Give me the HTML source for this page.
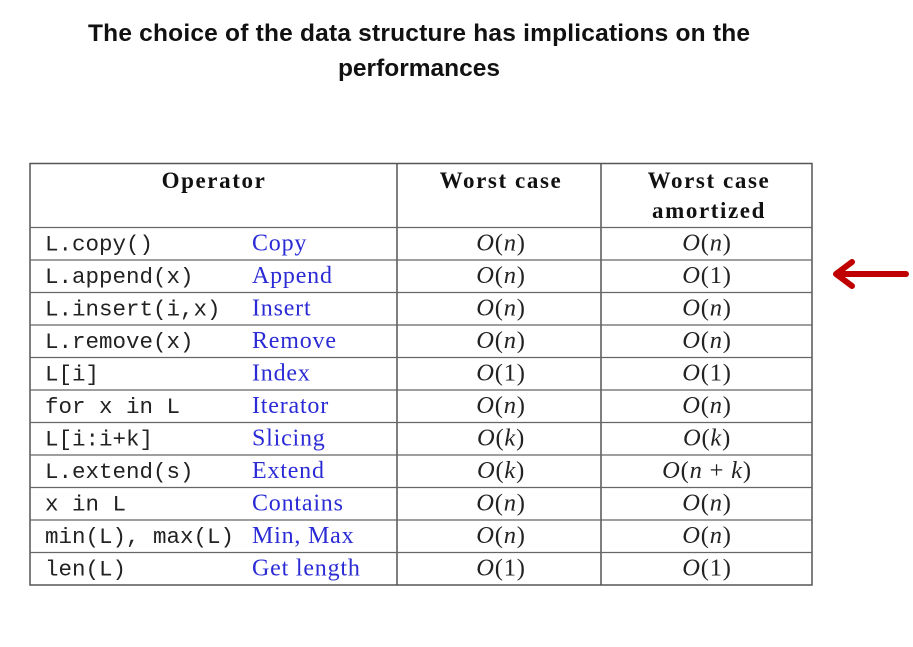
<!DOCTYPE html>
<html><head><meta charset="utf-8"><style>
html,body{margin:0;padding:0;background:#fff;}
svg{display:block}
.mono{font-family:"Liberation Mono",monospace;font-size:22.5px;fill:#222}
.blue{font-family:"Liberation Serif",serif;font-size:24px;letter-spacing:0.8px;fill:#2b2bd6}
.hdr{font-family:"Liberation Serif",serif;font-size:23px;fill:#111;font-weight:bold;letter-spacing:1.6px}
.math{font-family:"Liberation Serif",serif;font-size:24.5px;letter-spacing:0.8px;fill:#222}
.title{font-family:"Liberation Sans",sans-serif;font-size:24.5px;font-weight:bold;fill:#111}
</style></head><body>
<svg width="913" height="647">
<text class="title" x="419" y="41" text-anchor="middle" textLength="662">The choice of the data structure has implications on the</text>
<text class="title" x="419" y="76" text-anchor="middle">performances</text>
<g id="tbl">
<rect x="30" y="163.5" width="782" height="421.5" fill="none" stroke="#555" stroke-width="1.5"/>
<line x1="397" y1="163" x2="397" y2="585" stroke="#555" stroke-width="1.5"/>
<line x1="601" y1="163" x2="601" y2="585" stroke="#555" stroke-width="1.5"/>
<text class="hdr" x="214" y="188" text-anchor="middle">Operator</text>
<text class="hdr" x="501" y="188" text-anchor="middle">Worst case</text>
<text class="hdr" x="709" y="188" text-anchor="middle">Worst case</text>
<text class="hdr" x="709" y="218" text-anchor="middle">amortized</text>
</g>
<g id="arrow">
<line x1="838" y1="274" x2="906" y2="274" stroke="#c00000" stroke-width="6" stroke-linecap="round"/>
<polyline points="852,262 836,274 852,286" fill="none" stroke="#c00000" stroke-width="6" stroke-linecap="round" stroke-linejoin="round"/>
</g>
</svg>
<script>
const ops=["L.copy()","L.append(x)","L.insert(i,x)","L.remove(x)","L[i]","for x in L","L[i:i+k]","L.extend(s)","x in L","min(L), max(L)","len(L)"];
const names=["Copy","Append","Insert","Remove","Index","Iterator","Slicing","Extend","Contains","Min, Max","Get length"];
const worst=["n","n","n","n","1","n","k","k","n","n","1"];
const amort=["n","1","n","n","1","n","k","n + k","n","n","1"];
const NS="http://www.w3.org/2000/svg";
const g=document.getElementById("tbl");
const top0=227.5, rh=32.5;
function t(cls,x,y,anchor){const e=document.createElementNS(NS,"text");e.setAttribute("class",cls);e.setAttribute("x",x);e.setAttribute("y",y);if(anchor)e.setAttribute("text-anchor",anchor);g.appendChild(e);return e;}
function span(e,txt,it){const s=document.createElementNS(NS,"tspan");if(it)s.setAttribute("font-style","italic");s.textContent=txt;e.appendChild(s);}
function big(e,v){span(e,"O",true);span(e,"(",false);v.split(" + ").forEach((p,k)=>{if(k>0)span(e," + ",false);span(e,p,p!=="1");});span(e,")",false);}
for(let i=0;i<ops.length;i++){
  const y=top0+i*rh;
  const l=document.createElementNS(NS,"line");
  l.setAttribute("x1",30);l.setAttribute("x2",812);l.setAttribute("y1",y);l.setAttribute("y2",y);
  l.setAttribute("stroke","#666");l.setAttribute("stroke-width","1.2");
  
  
  g.appendChild(l);
  const by=y+23;
  const a=t("mono",45,by,null);a.textContent=ops[i];
  
  
  const b=t("blue",252,by,null);b.textContent=names[i];
  
  
  const c=t("math",501,by,"middle");big(c,worst[i]);
  
  
  const d=t("math",707,by,"middle");big(d,amort[i]);
  
  
}
</script>
</body></html>
